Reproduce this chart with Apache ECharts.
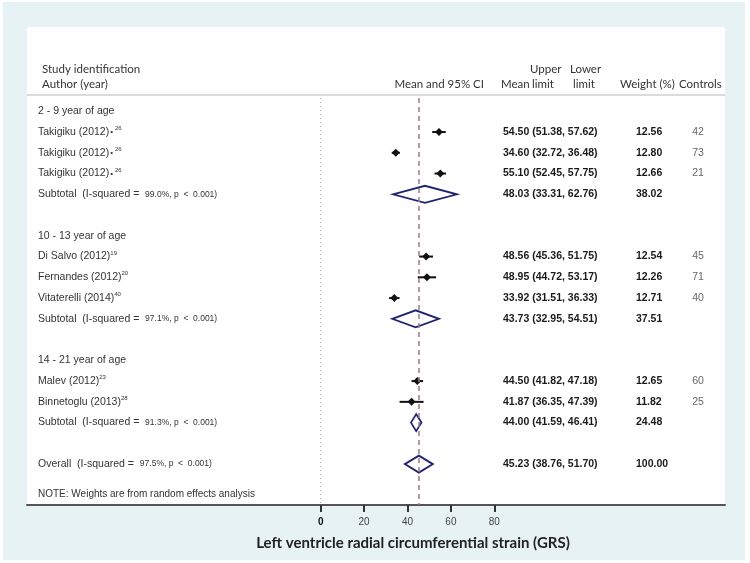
<!DOCTYPE html>
<html>
<head>
<meta charset="utf-8">
<script src="https://cdn.jsdelivr.net/npm/echarts@6/dist/echarts.min.js"></script>
<style>
html, body { margin: 0; padding: 0; background: #fff; }
#forestChart { width: 750px; height: 563px; }
</style>
</head>
<body>
<div id="forestChart"></div>
<script>
// 分组标题
var groupRows = [0, 6, 12];
var groupNames = ['2 - 9 year of age', '10 - 13 year of age', '14 - 21 year of age'];

// 单项研究
var studyRows = [1, 2, 3, 7, 8, 9, 13, 14];
var studyNames = ['Takigiku (2012)', 'Takigiku (2012)', 'Takigiku (2012)', 'Di Salvo (2012)',
    'Fernandes (2012)', 'Vitaterelli (2014)', 'Malev (2012)', 'Binnetoglu (2013)'];
var studyDots = ['•', '•', '•', '', '', '', '', ''];
var studyRefs = ['26', '26', '26', '19', '20', '40', '23', '28'];
var studyMean = [54.50, 34.60, 55.10, 48.56, 48.95, 33.92, 44.50, 41.87];
var studyLower = [51.38, 32.72, 52.45, 45.36, 44.72, 31.51, 41.82, 36.35];
var studyUpper = [57.62, 36.48, 57.75, 51.75, 53.17, 36.33, 47.18, 47.39];
var studyWeight = ['12.56', '12.80', '12.66', '12.54', '12.26', '12.71', '12.65', '11.82'];
var studyControls = [42, 73, 21, 45, 71, 40, 60, 25];

// 合并结果
var pooledRows = [4, 10, 15, 17];
var pooledNames = ['Subtotal', 'Subtotal', 'Subtotal', 'Overall'];
var pooledI2 = ['99.0%', '97.1%', '91.3%', '97.5%'];
var pooledP = ['0.001', '0.001', '0.001', '0.001'];
var pooledMean = [48.03, 43.73, 44.00, 45.23];
var pooledLower = [33.31, 32.95, 41.59, 38.76];
var pooledUpper = [62.76, 54.51, 46.41, 51.70];
var pooledWeight = ['38.02', '37.51', '24.48', '100.00'];

// 坐标轴刻度
var xTicks = [0, 20, 40, 60, 80];
var overallMean = pooledMean[3];

var labelFont = '"Liberation Sans", Arial, sans-serif';
var headFont = 'Lato, "Open Sans", sans-serif';

function fmtCI(m, l, u) {
    return m.toFixed(2) + ' (' + l.toFixed(2) + ', ' + u.toFixed(2) + ')';
}

// 表格文字行
var tableRows = [];
groupRows.forEach(function (r, i) {
    tableRows.push({ row: r, label: groupNames[i], ci: '', weight: '', controls: '' });
});
studyRows.forEach(function (r, i) {
    var sup = studyDots[i] ? '{dot|' + studyDots[i] + '}{sup|' + studyRefs[i] + '}' : '{sup|' + studyRefs[i] + '}';
    tableRows.push({
        row: r,
        label: studyNames[i] + sup,
        ci: fmtCI(studyMean[i], studyLower[i], studyUpper[i]),
        weight: studyWeight[i],
        controls: String(studyControls[i])
    });
});
pooledRows.forEach(function (r, i) {
    tableRows.push({
        row: r,
        label: pooledNames[i] + '  (I-squared =  {small|' + pooledI2[i] + ', p  <  ' + pooledP[i] + ')}',
        ci: fmtCI(pooledMean[i], pooledLower[i], pooledUpper[i]),
        weight: pooledWeight[i],
        controls: ''
    });
});

function txt(text, x, y, opts) {
    opts = opts || {};
    return {
        type: 'text',
        x: x, y: y,
        style: {
            text: text,
            fill: opts.fill || '#333',
            fontSize: opts.fontSize || 11.5,
            fontFamily: opts.fontFamily || headFont,
            fontWeight: opts.fontWeight || 'normal',
            align: opts.align || 'left',
            textAlign: opts.align || 'left',
            verticalAlign: 'middle',
            textVerticalAlign: 'middle'
        }
    };
}

function chartRender() {
    var chart = echarts.init(document.getElementById('forestChart'));

    var option = {
        animation: false,
        backgroundColor: '#fff',
        graphic: [
            { type: 'rect', z: -100, shape: { x: 3, y: 2, width: 742, height: 558 }, style: { fill: '#e7f2f4' } },
            { type: 'rect', z: -99, shape: { x: 27, y: 27, width: 698, height: 478 }, style: { fill: '#fff' } },
            { type: 'line', shape: { x1: 27, y1: 95, x2: 725, y2: 95 }, style: { stroke: '#cfcfcf', lineWidth: 1.5 } },
            txt('Study identification', 42, 69),
            txt('Author (year)', 42, 84),
            txt('Mean and 95% CI', 484, 84, { align: 'right' }),
            txt('Mean', 501, 84),
            txt('Upper', 530, 69),
            txt('limit', 532, 84),
            txt('Lower', 570, 69),
            txt('limit', 573, 84),
            txt('Weight (%)', 620, 84),
            txt('Controls', 679, 84),
            txt('NOTE: Weights are from random effects analysis', 38, 494, { fontFamily: labelFont, fontSize: 10 }),
            txt('Left ventricle radial circumferential strain (GRS)', 413, 543,
                { align: 'center', fontSize: 15, fontWeight: 'bold', fill: '#222' })
        ],
        grid: { left: 27, right: 25, top: 98, bottom: 58 },
        xAxis: {
            type: 'value',
            min: -135.35,
            max: 186.3,
            splitLine: { show: false },
            axisLine: { show: true, onZero: false, lineStyle: { color: '#555', width: 2 } },
            axisTick: { show: true, customValues: xTicks, length: 7, lineStyle: { color: '#333', width: 2 } },
            axisLabel: {
                customValues: xTicks,
                margin: 12,
                color: '#444',
                fontSize: 10,
                fontFamily: labelFont,
                formatter: function (v) { return v === 0 ? '{b|0}' : String(v); },
                rich: { b: { fontWeight: 'bold', color: '#111', fontSize: 10, fontFamily: labelFont } }
            }
        },
        yAxis: {
            type: 'value',
            inverse: true,
            min: -0.64,
            max: 18.97,
            show: false
        },
        series: [
            {
                // 参考线
                type: 'line',
                data: [],
                markLine: {
                    silent: true,
                    symbol: ['none', 'none'],
                    label: { show: false },
                    data: [
                        { xAxis: 0, lineStyle: { type: [1, 3], color: '#a8a8a8', width: 1 } },
                        { xAxis: overallMean, lineStyle: { type: [5, 4], color: '#9a7a86', width: 1.5 } }
                    ]
                }
            },
            {
                // 单项研究: 置信区间 + 点
                type: 'custom',
                encode: { x: [0, 1, 3], y: 2 },
                data: studyRows.map(function (r, i) {
                    return [studyLower[i], studyUpper[i], r, studyMean[i]];
                }),
                renderItem: function (params, api) {
                    var l = api.coord([api.value(0), api.value(2)]);
                    var h = api.coord([api.value(1), api.value(2)]);
                    var m = api.coord([api.value(3), api.value(2)]);
                    return {
                        type: 'group',
                        children: [
                            { type: 'line', shape: { x1: l[0], y1: l[1], x2: h[0], y2: h[1] }, style: { stroke: '#111', lineWidth: 2 } },
                            { type: 'polygon', shape: { points: [[m[0] - 4, m[1]], [m[0], m[1] - 4], [m[0] + 4, m[1]], [m[0], m[1] + 4]] }, style: { fill: '#111' } }
                        ]
                    };
                }
            },
            {
                // 合并结果菱形
                type: 'custom',
                encode: { x: [0, 1, 3], y: 2 },
                data: pooledRows.map(function (r, i) {
                    return [pooledLower[i], pooledUpper[i], r, pooledMean[i]];
                }),
                renderItem: function (params, api) {
                    var l = api.coord([api.value(0), api.value(2)]);
                    var h = api.coord([api.value(1), api.value(2)]);
                    var m = api.coord([api.value(3), api.value(2)]);
                    return {
                        type: 'polygon',
                        shape: { points: [l, [m[0], m[1] - 8.5], h, [m[0], m[1] + 8.5]] },
                        style: { fill: 'none', stroke: '#1f2470', lineWidth: 1.8 }
                    };
                }
            },
            {
                // 表格文字
                type: 'custom',
                encode: { x: 0, y: 1 },
                data: tableRows.map(function (t) { return [0, t.row]; }),
                renderItem: function (params, api) {
                    var t = tableRows[params.dataIndex];
                    var y = api.coord([0, api.value(1)])[1];
                    var base = { fontFamily: labelFont, verticalAlign: 'middle', textVerticalAlign: 'middle' };
                    return {
                        type: 'group',
                        children: [
                            {
                                type: 'text', x: 38, y: y,
                                style: Object.assign({}, base, {
                                    text: t.label, fill: '#333', fontSize: 10.5, lineHeight: 13,
                                    rich: {
                                        sup: { fontSize: 6, fill: '#333', verticalAlign: 'top', lineHeight: 13, fontFamily: labelFont },
                                        dot: { fontSize: 8, fill: '#333', fontFamily: labelFont, padding: [0, 2, 0, 1] },
                                        small: { fontSize: 8.5, fill: '#333', fontFamily: labelFont }
                                    }
                                })
                            },
                            { type: 'text', x: 503, y: y, style: Object.assign({}, base, { text: t.ci, fill: '#1a1a1a', fontSize: 10.5, fontWeight: 'bold' }) },
                            { type: 'text', x: 636, y: y, style: Object.assign({}, base, { text: t.weight, fill: '#1a1a1a', fontSize: 10.5, fontWeight: 'bold' }) },
                            { type: 'text', x: 698, y: y, style: Object.assign({}, base, { text: t.controls, fill: '#666', fontSize: 10.5, align: 'center', textAlign: 'center' }) }
                        ]
                    };
                }
            }
        ]
    };

    chart.setOption(option);
}
chartRender();
</script>
</body>
</html>
